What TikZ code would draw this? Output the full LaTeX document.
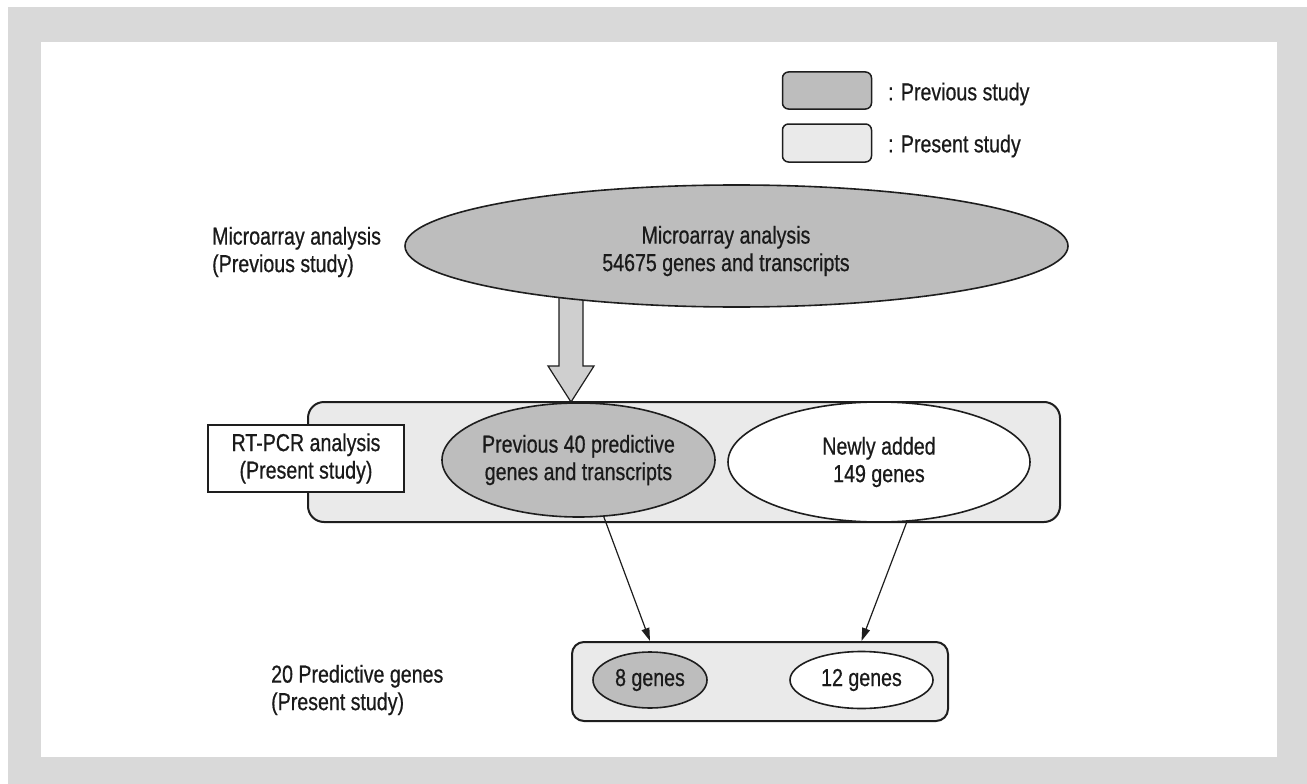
\documentclass[tikz,border=0pt]{standalone}
\usepackage{fontspec}
\setmainfont{Liberation Sans}[FakeStretch=0.8,FakeBold=0.6]
\usetikzlibrary{shapes.geometric,arrows.meta}
\definecolor{lc}{HTML}{1E1E1E}
\definecolor{tc}{HTML}{1A1A1A}
\definecolor{gpv}{HTML}{BDBDBD}
\definecolor{gps}{HTML}{EAEAEA}
\definecolor{gbk}{HTML}{D9D9D9}
\definecolor{gba}{HTML}{CFCFCF}
\tikzset{
  ellnode/.style={ellipse, draw=lc, line width=1.6pt, inner sep=0pt, align=center, text=tc},
  roundbox/.style={draw=lc, line width=2pt, inner sep=0pt},
  lbl/.style={align=left, anchor=west, inner sep=0pt, text=tc},
  thinarrow/.style={draw=lc, line width=1.2pt, -{Triangle[length=13pt,width=8pt]}},
}
\begin{document}
\begin{tikzpicture}[x=1pt,y=-1pt,font=\fontsize{24.5}{27.5}\selectfont]
\useasboundingbox (0,0) rectangle (1307,784);
% background
\fill[gbk] (8,7) rectangle (1307,784);
\fill[white] (41,42) rectangle (1277,757);

% legend
\node[roundbox, line width=1.5pt, rounded corners=6pt, fill=gpv, minimum width=89pt, minimum height=37pt] (legprev) at (827,90.5) {};
\node[roundbox, line width=1.5pt, rounded corners=6pt, fill=gps, minimum width=89pt, minimum height=38pt] (legpres) at (827,143) {};
\node[lbl] (legprevtxt) at (888,94) {: Previous study};
\node[lbl] (legprestxt) at (888,146) {: Present study};

% left labels
\node[lbl] (lblmicro) at (212,252) {Microarray analysis\\(Previous study)};
\node[lbl] (lblpred) at (271,690) {20 Predictive genes\\(Present study)};

% RT-PCR band
\node[roundbox, rounded corners=16pt, fill=gps, minimum width=752pt, minimum height=120pt] (rtband) at (684,462) {};

% block arrow (drawn under the top ellipse)
\filldraw[fill=gba, draw=lc, line width=1.2pt, line join=miter]
  (559,290) -- (583,290) -- (583,366) -- (594,366) -- (571,402) -- (548,366) -- (559,366) -- cycle;

% top ellipse
\node[ellnode, fill=gpv, minimum width=663pt, minimum height=122pt] (micro) at (736.5,246) {};
\node[align=center, inner sep=0pt, text=tc] (microtxt) at (726,251) {Microarray analysis\\54675 genes and transcripts};

% RT-PCR box
\node[draw=lc, line width=2.2pt, fill=white, minimum width=196pt, minimum height=67pt, inner sep=0pt, align=center, text=tc] (rtbox) at (306,458.5) {RT-PCR analysis\\(Present study)};

% middle ellipses
\node[ellnode, fill=gpv, minimum width=273pt, minimum height=114pt] (prev) at (578.5,460) {Previous 40 predictive\\genes and transcripts};
\node[ellnode, fill=white, minimum width=302pt, minimum height=120pt] (newly) at (879,462) {Newly added\\149 genes};

% bottom band
\node[roundbox, rounded corners=12pt, fill=gps, minimum width=376pt, minimum height=79pt] (bottom) at (760,681.5) {};
\node[ellnode, fill=gpv, minimum width=114pt, minimum height=56pt] (eight) at (650,680) {8 genes};
\node[ellnode, fill=white, minimum width=143pt, minimum height=57pt] (twelve) at (861.5,680) {12 genes};

% connectors
\draw[thinarrow] (prev.294) -- (eight.north |- bottom.north);
\draw[thinarrow] (newly.295) -- (twelve.north |- bottom.north);
\end{tikzpicture}
\end{document}
